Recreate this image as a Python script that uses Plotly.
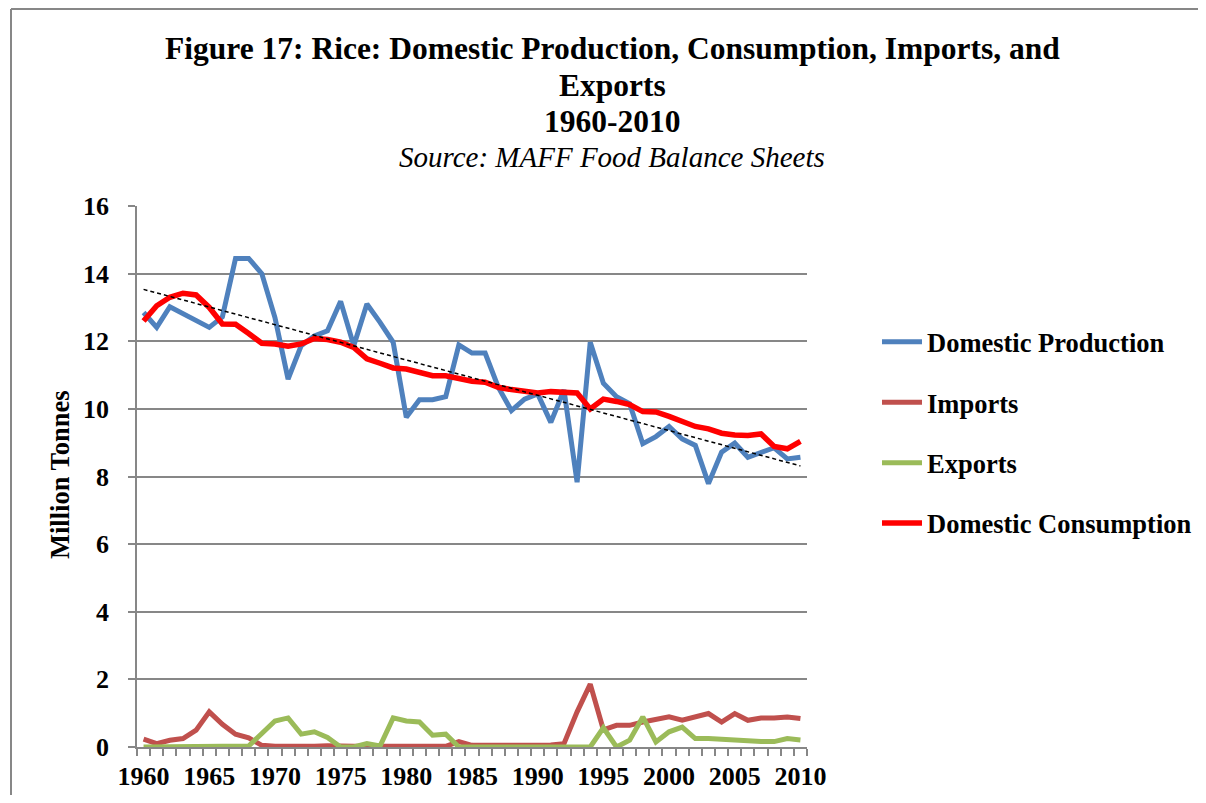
import numpy as np
import plotly.graph_objects as go

years = list(range(1960, 2011))

production = [12.85, 12.41, 13.02, 12.82, 12.60, 12.41, 12.72, 14.45, 14.45, 14.00,
              12.70, 10.88, 11.87, 12.16, 12.31, 13.18, 11.87, 13.10, 12.56, 11.97,
              9.75, 10.27, 10.27, 10.36, 11.89, 11.65, 11.65, 10.64, 9.95, 10.29,
              10.44, 9.60, 10.56, 7.83, 11.97, 10.76, 10.36, 10.15, 8.97, 9.18,
              9.48, 9.11, 8.92, 7.79, 8.72, 8.99, 8.57, 8.72, 8.85, 8.52,
              8.57]

imports = [0.23, 0.10, 0.20, 0.25, 0.50, 1.04, 0.67, 0.38, 0.27, 0.05,
           0.02, 0.01, 0.01, 0.02, 0.04, 0.02, 0.02, 0.02, 0.02, 0.02,
           0.02, 0.04, 0.04, 0.02, 0.16, 0.05, 0.05, 0.05, 0.05, 0.05,
           0.05, 0.06, 0.10, 1.04, 1.86, 0.51, 0.64, 0.64, 0.74, 0.81,
           0.89, 0.79, 0.89, 0.99, 0.74, 0.99, 0.79, 0.86, 0.86, 0.89,
           0.84]

exports = [0.00, 0.00, 0.00, 0.00, 0.00, 0.00, 0.00, 0.00, 0.03, 0.40,
           0.77, 0.86, 0.38, 0.45, 0.28, 0.00, 0.00, 0.10, 0.03, 0.86,
           0.77, 0.74, 0.35, 0.38, 0.00, 0.00, 0.00, 0.00, 0.00, 0.00,
           0.00, 0.00, 0.00, 0.00, 0.00, 0.57, 0.00, 0.20, 0.89, 0.15,
           0.45, 0.59, 0.25, 0.25, 0.22, 0.20, 0.18, 0.16, 0.16, 0.25,
           0.21]

consumption = [12.60, 13.05, 13.30, 13.42, 13.37, 13.00, 12.51, 12.50, 12.23, 11.94,
               11.92, 11.85, 11.92, 12.08, 12.05, 11.97, 11.82, 11.48, 11.35, 11.21,
               11.18, 11.10, 10.98, 10.98, 10.90, 10.82, 10.79, 10.64, 10.57, 10.52,
               10.47, 10.51, 10.51, 10.47, 10.00, 10.29, 10.22, 10.13, 9.92, 9.91,
               9.78, 9.63, 9.48, 9.41, 9.28, 9.23, 9.21, 9.26, 8.89, 8.82,
               9.04]

x_label_years = [1960, 1965, 1970, 1975, 1980, 1985, 1990, 1995, 2000, 2005, 2010]
y_ticks = [0, 2, 4, 6, 8, 10, 12, 14, 16]

series_names = ["Domestic Production", "Imports", "Exports", "Domestic Consumption"]
series_colors = ["#4F81BD", "#C0504D", "#9BBB59", "#FF0000"]

# Excel-style linear trendline of domestic production
coef = np.polyfit(years, production, 1)
trend = list(np.polyval(coef, years))

FONT = "Liberation Serif, Times New Roman, serif"
OFF = 8  # browser default body margin
W, H = 1206 - 2 * OFF, 803 - 2 * OFF
# plot area in screen pixels
SL, SR, ST, SB = 137, 807, 206, 747
L, R, T, B = SL - OFF, SR - OFF, ST - OFF, SB - OFF
GRID = "#878787"


def px_x(p):
    """screen pixel x -> paper x"""
    return (p - SL) / (SR - SL)


def px_y(p):
    """screen pixel y -> paper y"""
    return (SB - p) / (SB - ST)


fig = go.Figure()
for name, vals, col, w in zip(series_names, [production, imports, exports, consumption],
                              series_colors, [5, 5, 5, 5.5]):
    fig.add_trace(go.Scatter(x=years, y=vals, mode="lines", name=name,
                             line=dict(color=col, width=w), legendgroup=name))

fig.add_trace(go.Scatter(x=years, y=trend, mode="lines", showlegend=False,
                         line=dict(color="black", width=1.5, dash="4px,3px")))

fig.update_layout(
    width=W, height=H,
    margin=dict(l=L, r=W - R, t=T, b=H - B, autoexpand=False),
    paper_bgcolor="white", plot_bgcolor="white",
    font=dict(family=FONT, color="black", size=26),
    showlegend=True,
    legend=dict(x=px_x(877), y=px_y(318), xanchor="left", yanchor="top",
                font=dict(family=FONT, size=26.5, color="black", weight="bold"),
                tracegroupgap=23, itemwidth=40, bgcolor="rgba(0,0,0,0)"),
)

fig.update_xaxes(
    range=[1959.5, 2010.5], tickmode="array", tickvals=x_label_years,
    ticktext=[str(v) for v in x_label_years], ticks="", showgrid=False,
    showline=True, linecolor=GRID, linewidth=1.5, zeroline=False,
    tickfont=dict(family=FONT, size=26, color="black", weight="bold"),
    ticklabelstandoff=5,
    minor=dict(tickmode="linear", tick0=1959.5, dtick=1, ticks="outside",
               ticklen=7, tickcolor=GRID, tickwidth=1.5, showgrid=False),
)
fig.update_yaxes(
    range=[0, 16], tickmode="array", tickvals=y_ticks,
    ticks="outside", ticklen=7, tickcolor=GRID, tickwidth=1.5,
    showgrid=True, gridcolor=GRID, gridwidth=1.5,
    showline=True, linecolor=GRID, linewidth=1.5, zeroline=False,
    tickfont=dict(family=FONT, size=26, color="black", weight="bold"),
    ticklabelstandoff=14,
)

# Titles
title_lines = [
    ("<b>Figure 17: Rice: Domestic Production, Consumption, Imports, and</b>", 48, 31.5),
    ("<b>Exports</b>", 85, 31.5),
    ("<b>1960-2010</b>", 121, 31.5),
    ("<i>Source: MAFF Food Balance Sheets</i>", 157, 29),
]
for txt, ypx, fs in title_lines:
    fig.add_annotation(text=txt, xref="paper", yref="paper", x=px_x(612), y=px_y(ypx),
                       xanchor="center", yanchor="middle", showarrow=False,
                       font=dict(family=FONT, size=fs, color="black"))

fig.add_annotation(text="<b>Million Tonnes</b>", xref="paper", yref="paper",
                   x=px_x(60), y=px_y(475), xanchor="center", yanchor="middle",
                   textangle=-90, showarrow=False,
                   font=dict(family=FONT, size=26.5, color="black"))

# Chart frame (top and left edges; the rest lies outside the picture)
fig.add_shape(type="line", xref="paper", yref="paper",
              x0=px_x(11), x1=px_x(1250), y0=px_y(9), y1=px_y(9),
              line=dict(color=GRID, width=2), layer="below")
fig.add_shape(type="line", xref="paper", yref="paper",
              x0=px_x(11), x1=px_x(11), y0=px_y(9), y1=px_y(900),
              line=dict(color=GRID, width=2), layer="below")

fig.write_html("out.html")
